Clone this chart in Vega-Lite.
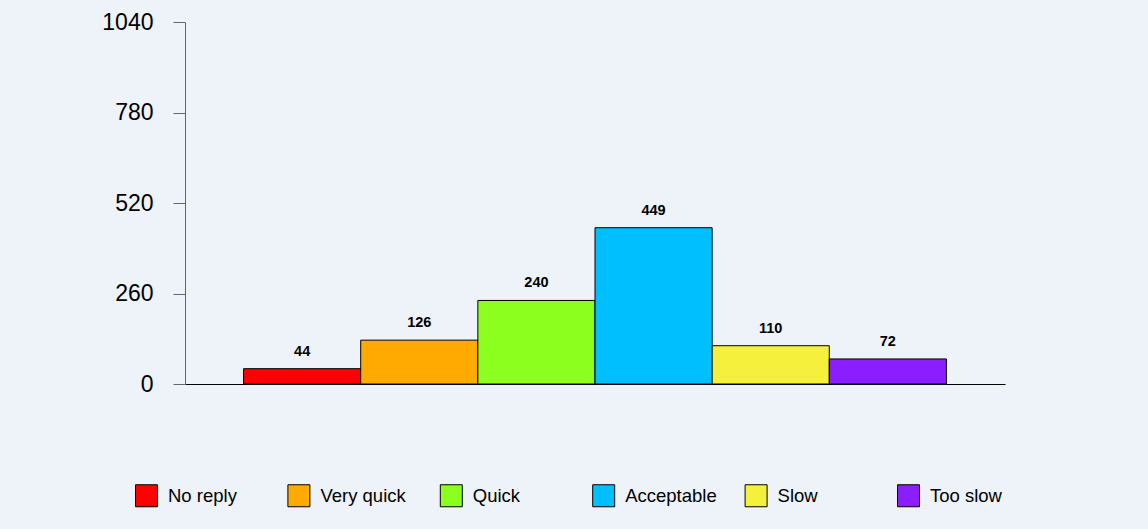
{
  "$schema": "https://vega.github.io/schema/vega-lite/v6.json",
  "autosize": {"type": "none"},
  "width": 820,
  "height": 362,
  "padding": {"left": 185, "top": 22, "right": 143, "bottom": 145},
  "background": "#edf3f8",
  "config": {
    "view": {"stroke": null},
    "font": "Liberation Sans"
  },
  "data": {
    "values": [
      {"category": "No reply", "count": 44},
      {"category": "Very quick", "count": 126},
      {"category": "Quick", "count": 240},
      {"category": "Acceptable", "count": 449},
      {"category": "Slow", "count": 110},
      {"category": "Too slow", "count": 72}
    ]
  },
  "encoding": {
    "x": {
      "field": "category",
      "type": "nominal",
      "sort": null,
      "scale": {"paddingInner": 0, "paddingOuter": 0.5},
      "axis": {
        "title": null,
        "labels": false,
        "ticks": false,
        "domainColor": "#000000",
        "domainWidth": 1
      }
    },
    "y": {
      "field": "count",
      "type": "quantitative",
      "scale": {"domain": [0, 1040], "nice": false},
      "axis": {
        "title": null,
        "values": [0, 260, 520, 780, 1040],
        "format": "d",
        "grid": false,
        "tickSize": 12,
        "tickColor": "#666666",
        "domainColor": "#666666",
        "labelFontSize": 23,
        "labelColor": "#000000",
        "labelPadding": 20,
        "labelFont": "Liberation Sans"
      }
    }
  },
  "layer": [
    {
      "mark": {"type": "bar", "stroke": "#000000", "strokeWidth": 1},
      "encoding": {
        "color": {
          "field": "category",
          "type": "nominal",
          "sort": null,
          "scale": {
            "domain": ["No reply", "Very quick", "Quick", "Acceptable", "Slow", "Too slow"],
            "range": ["#ff0000", "#ffaa00", "#8cff1e", "#00bfff", "#f5f03c", "#8a1eff"]
          },
          "legend": {
            "title": null,
            "orient": "none",
            "legendX": -50,
            "legendY": 462,
            "direction": "horizontal",
            "columns": 6,
            "gridAlign": "all",
            "columnPadding": 25.4,
            "symbolType": "square",
            "symbolSize": 484,
            "symbolStrokeColor": "#000000",
            "symbolStrokeWidth": 1,
            "symbolOpacity": 1,
            "labelOffset": 10,
            "labelFontSize": 18.5,
            "labelFont": "Liberation Sans",
            "labelColor": "#000000",
            "labelLimit": 200
          }
        }
      }
    },
    {
      "mark": {
        "type": "text",
        "baseline": "bottom",
        "dy": -10,
        "fontSize": 14.5,
        "fontWeight": "bold",
        "font": "Liberation Sans",
        "color": "#000000"
      },
      "encoding": {
        "text": {"field": "count", "type": "quantitative", "format": "d"}
      }
    }
  ]
}
